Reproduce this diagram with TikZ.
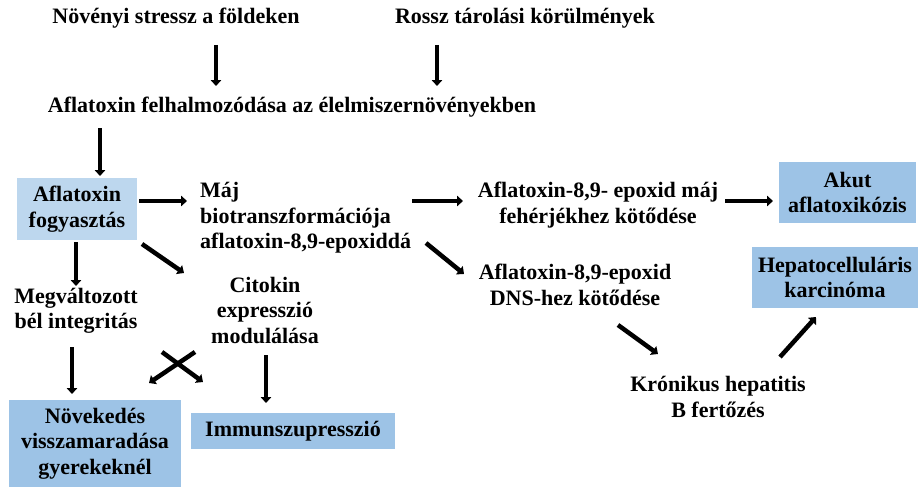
\documentclass[tikz,border=0pt]{standalone}
\usepackage{fontspec}
\setmainfont{Liberation Serif}
\usetikzlibrary{arrows.meta}
\definecolor{lightbox}{HTML}{BDD7EE}
\definecolor{midbox}{HTML}{9DC3E6}
\begin{document}
\begin{tikzpicture}[x=1pt,y=-1pt,
  txt/.style={font=\fontsize{22}{25.5}\selectfont\bfseries, align=center, inner sep=0pt},
  lbox/.style={txt, fill=lightbox},
  mbox/.style={txt, fill=midbox},
  arr/.style={line width=4.5pt, -{Triangle[length=6pt,width=10.5pt]}}]
\useasboundingbox (0,0) rectangle (918,487);
\node[txt] (ns) at (176,18) {Növényi stressz a földeken};
\node[txt] (rt) at (525,18) {Rossz tárolási körülmények};
\node[txt] (af) at (292,107) {Aflatoxin felhalmozódása az élelmiszernövényekben};
\node[lbox, minimum width=120, minimum height=62] (fog) at (77,209) {Aflatoxin\\fogyasztás};
\node[txt, align=left, anchor=west] (maj) at (200,218) {Máj\\biotranszformációja\\aflatoxin-8,9-epoxiddá};
\node[txt] (feh) at (598,205) {Aflatoxin-8,9- epoxid máj\\fehérjékhez kötődése};
\node[mbox, minimum width=137, minimum height=61] (akut) at (847.5,192.5) {Akut\\aflatoxikózis};
\node[txt] (dns) at (575,285) {Aflatoxin-8,9-epoxid\\DNS-hez kötődése};
\node[mbox, minimum width=166, minimum height=61] (hep) at (835,277.5) {Hepatocelluláris\\karcinóma};
\node[txt] (kro) at (718,397) {Krónikus hepatitis\\B fertőzés};
\node[txt] (bel) at (76,311) {Megváltozott\\bél integritás};
\node[txt] (cit) at (265,310) {Citokin\\expresszió\\modulálása};
\node[mbox, minimum width=172, minimum height=88] (nov) at (95,443.5) {Növekedés\\visszamaradása\\gyerekeknél};
\node[mbox, minimum width=204, minimum height=36] (imm) at (293,431) {Immunszupresszió};
% connectors
\coordinate (a1) at (216,45); \coordinate (a2) at (216,86);
\coordinate (b1) at (437,45); \coordinate (b2) at (437,86);
\coordinate (c1) at (100,128); \coordinate (c2) at (100,176);
\coordinate (d1) at (139,201); \coordinate (d2) at (187,201);
\coordinate (e1) at (412,201); \coordinate (e2) at (463,201);
\coordinate (f1) at (725,201); \coordinate (f2) at (773,201);
\coordinate (g1) at (426,243); \coordinate (g2) at (464,274);
\coordinate (h1) at (618,325); \coordinate (h2) at (658,354);
\coordinate (i1) at (780,357); \coordinate (i2) at (816,317);
\coordinate (j1) at (76,242); \coordinate (j2) at (76,286);
\coordinate (k1) at (142,244); \coordinate (k2) at (184,273);
\coordinate (l1) at (72,347); \coordinate (l2) at (72,394);
\coordinate (m1) at (266,355); \coordinate (m2) at (266,403);
\coordinate (n1) at (195,352); \coordinate (n2) at (149,383);
\coordinate (o1) at (162,352); \coordinate (o2) at (203,382);
\draw[arr] (a1) -- (a2);
\draw[arr] (b1) -- (b2);
\draw[arr] (c1) -- (c2);
\draw[arr] (d1) -- (d2);
\draw[arr] (e1) -- (e2);
\draw[arr] (f1) -- (f2);
\draw[arr] (g1) -- (g2);
\draw[arr] (h1) -- (h2);
\draw[arr] (i1) -- (i2);
\draw[arr] (j1) -- (j2);
\draw[arr] (k1) -- (k2);
\draw[arr] (l1) -- (l2);
\draw[arr] (m1) -- (m2);
\draw[arr] (n1) -- (n2);
\draw[arr] (o1) -- (o2);
\end{tikzpicture}
\end{document}
